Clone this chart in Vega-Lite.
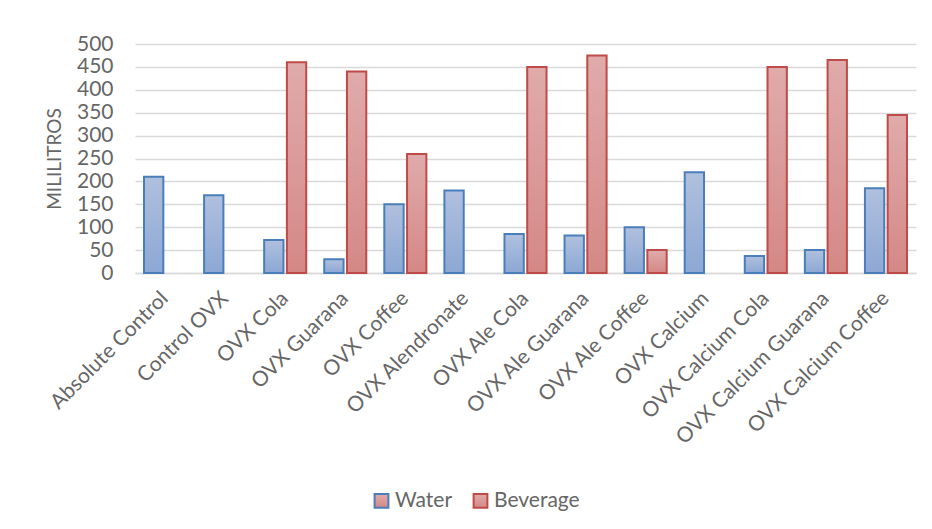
{
  "$schema": "https://vega.github.io/schema/vega-lite/v6.json",
  "width": 781,
  "height": 229,
  "autosize": {"type": "none"},
  "padding": {"left": 135, "top": 44, "right": 16, "bottom": 256},
  "background": "white",
  "config": {
    "font": "Lato",
    "view": {"stroke": null},
    "axis": {"labelColor": "#666666", "titleColor": "#666666", "labelFontSize": 21, "titleFontWeight": "normal", "gridColor": "#d9d9d9", "gridWidth": 1.5, "domainColor": "#d9d9d9", "domainWidth": 1.5, "ticks": false}
  },
  "data": {
    "values": [
      {"group": "Absolute Control", "series": "Water", "ml": 210},
      {"group": "Control OVX", "series": "Water", "ml": 170},
      {"group": "OVX Cola", "series": "Water", "ml": 72},
      {"group": "OVX Cola", "series": "Beverage", "ml": 460},
      {"group": "OVX Guarana", "series": "Water", "ml": 30},
      {"group": "OVX Guarana", "series": "Beverage", "ml": 440},
      {"group": "OVX Coffee", "series": "Water", "ml": 150},
      {"group": "OVX Coffee", "series": "Beverage", "ml": 260},
      {"group": "OVX Alendronate", "series": "Water", "ml": 180},
      {"group": "OVX Ale Cola", "series": "Water", "ml": 85},
      {"group": "OVX Ale Cola", "series": "Beverage", "ml": 450},
      {"group": "OVX Ale Guarana", "series": "Water", "ml": 82},
      {"group": "OVX Ale Guarana", "series": "Beverage", "ml": 475},
      {"group": "OVX Ale Coffee", "series": "Water", "ml": 100},
      {"group": "OVX Ale Coffee", "series": "Beverage", "ml": 50},
      {"group": "OVX Calcium", "series": "Water", "ml": 220},
      {"group": "OVX Calcium Cola", "series": "Water", "ml": 37},
      {"group": "OVX Calcium Cola", "series": "Beverage", "ml": 450},
      {"group": "OVX Calcium Guarana", "series": "Water", "ml": 50},
      {"group": "OVX Calcium Guarana", "series": "Beverage", "ml": 465},
      {"group": "OVX Calcium Coffee", "series": "Water", "ml": 185},
      {"group": "OVX Calcium Coffee", "series": "Beverage", "ml": 345}
    ]
  },
  "mark": {"type": "bar", "strokeWidth": 2},
  "encoding": {
    "x": {
      "field": "group", "type": "nominal", "sort": null,
      "scale": {"paddingInner": 0.3, "paddingOuter": 0.15},
      "axis": {"title": null, "labelAngle": -45, "labelAlign": "right", "labelBaseline": "middle", "labelPadding": 22, "labelLimit": 400, "grid": false, "domain": true}
    },
    "xOffset": {"field": "series", "type": "nominal", "scale": {"domain": ["Water", "Beverage"], "paddingInner": 0.15}},
    "y": {
      "field": "ml", "type": "quantitative",
      "scale": {"domain": [0, 500]},
      "axis": {"title": "MILILITROS", "titleFontSize": 19, "values": [0,50,100,150,200,250,300,350,400,450,500], "domain": false, "labelPadding": 22, "titlePadding": 12}
    },
    "fill": {
      "condition": {"test": "datum.series === 'Water'", "value": {"gradient": "linear", "x1": 0, "y1": 0, "x2": 0, "y2": 1, "stops": [{"offset": 0, "color": "#b0c0de"}, {"offset": 1, "color": "#8ca8d4"}]}},
      "value": {"gradient": "linear", "x1": 0, "y1": 0, "x2": 0, "y2": 1, "stops": [{"offset": 0, "color": "#e0abab"}, {"offset": 1, "color": "#d48886"}]}
    },
    "stroke": {
      "field": "series", "type": "nominal",
      "scale": {"domain": ["Water", "Beverage"], "range": ["#4a7ebb", "#be4b48"]},
      "legend": {
        "title": null, "orient": "none", "legendX": 236, "legendY": 446, "direction": "horizontal",
        "labelFontSize": 21, "labelColor": "#666666", "labelOffset": 3, "symbolType": "square", "symbolSize": 190, "symbolStrokeWidth": 2, "columnPadding": 16,
        "encode": {"symbols": {"update": {"fill": {"signal": "datum.value === 'Water' ? '#a0b6dc' : '#dc9e9d'"}}}}
      }
    }
  }
}
